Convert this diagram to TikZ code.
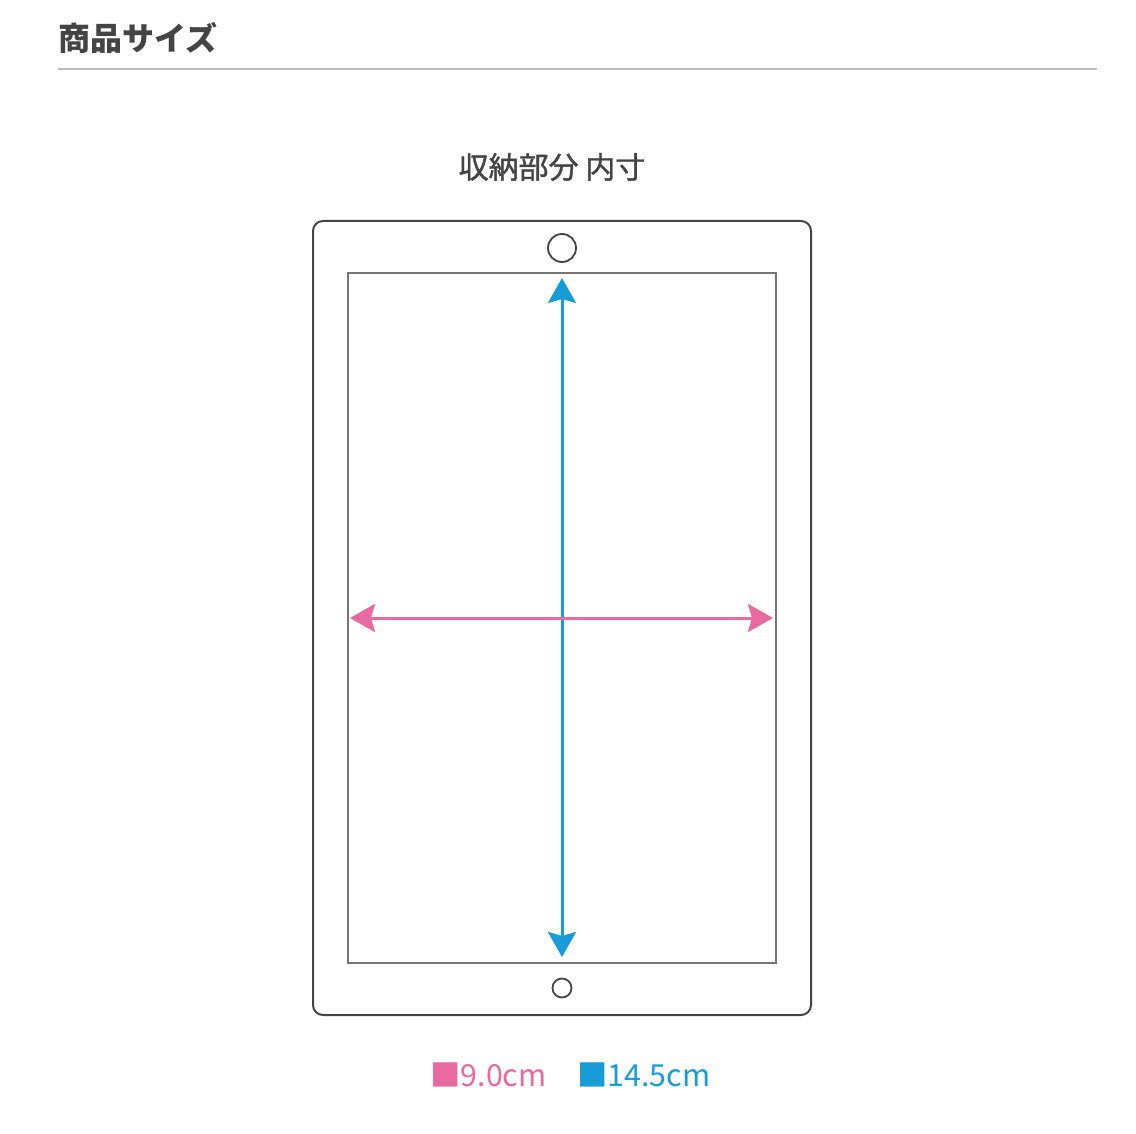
\documentclass[tikz,border=0pt]{standalone}
\usepackage{fontspec}
\setmainfont{Noto Sans CJK JP}
\newfontfamily\midfont[FakeBold=1.3]{Noto Sans CJK JP}
\usetikzlibrary{arrows.meta}
\definecolor{c1}{RGB}{233,105,160}
\definecolor{c2}{RGB}{24,156,216}
\definecolor{c3}{RGB}{68,68,68}
\definecolor{c4}{RGB}{120,116,116}
\tikzset{
  frame/.style={draw=c3,line width=1pt},
  dim/.style={line width=1.5pt,{Stealth[length=12.5pt,width=14pt,inset=2pt]}-{Stealth[length=12.5pt,width=14pt,inset=2pt]}},
  hole/.style={circle,draw=c3,line width=0.9pt,inner sep=0pt}
}

\begin{document}
\begin{tikzpicture}[x=0.5pt,y=-0.5pt]
      \useasboundingbox (0,0) rectangle (1136,1134);
      % heading
      \node[anchor=west,inner sep=0pt,text=c3,font=\fontsize{16}{19}\selectfont\bfseries] (head) at (58,38) {商品サイズ};
      \draw[draw={rgb,255:red,187;green,187;blue,187},line width=0.8pt] (58,69) -- (1097,69);
      \node[text=c3,font=\fontsize{15}{18}\selectfont\midfont] (sub) at (552,167) {収納部分 内寸};

      % case
      \draw[frame,rounded corners=5pt] (313,221) rectangle (811,1015);
      \draw[draw=c4,line width=1pt] (348,273) rectangle (776,963);
      \node[hole,minimum size=14pt] (top) at (562,248) {};
      \node[hole,minimum size=9.5pt] (bot) at (562,988) {};

      % ends of the arrows
      \coordinate (n) at (562,278);
      \coordinate (s) at (562,957);
      \coordinate (w) at (350,618);
      \coordinate (e) at (773,618);
      \draw[dim,c2] (n) -- (s); %14.5
      \draw[dim,c1] (w) -- (e); %9.0

      % legend
      \node[anchor=base west,inner sep=0pt,text=c1,font=\fontsize{15.2}{18}\selectfont] (lenw) at (430,1086) {■9.0cm};
      \node[anchor=base west,inner sep=0pt,text=c2,font=\fontsize{15.2}{18}\selectfont] (lenh) at (577,1086) {■14.5cm};
\end{tikzpicture}
\end{document}
